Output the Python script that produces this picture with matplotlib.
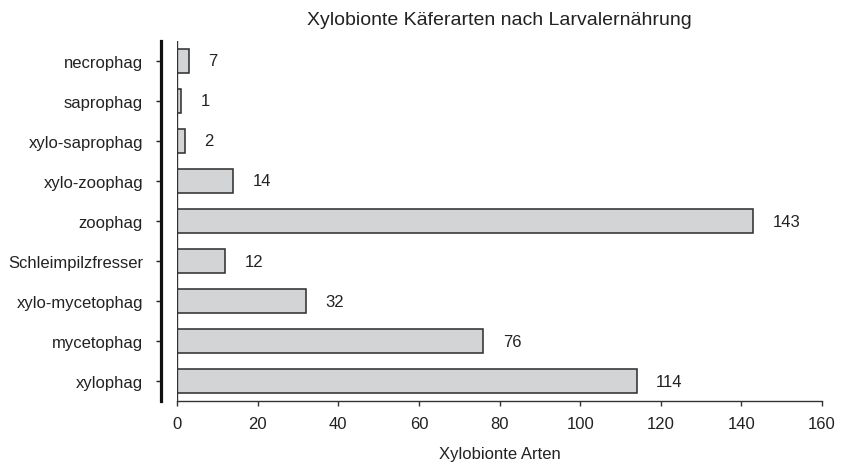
"""
Xylobionte Kaeferarten nach Larvalernaehrung - horizontal bar chart
"""

import matplotlib
matplotlib.use("Agg")
import matplotlib.pyplot as plt
import numpy as np

plt.rcParams['font.family'] = ['Liberation Sans', 'DejaVu Sans']

# bottom to top, as drawn on the chart
categories = ['xylophag', 'mycetophag', 'xylo-mycetophag', 'Schleimpilzfresser',
              'zoophag', 'xylo-zoophag', 'xylo-saprophag', 'saprophag', 'necrophag']
bar_lengths = [114, 76, 32, 12, 143, 14, 2, 1, 3]
value_labels = ['114', '76', '32', '12', '143', '14', '2', '1', '7']
xticks = [0, 20, 40, 60, 80, 100, 120, 140, 160]

text_col = '#222222'

fig = plt.figure(figsize=(8.41, 4.64), dpi=100)
ax = fig.add_axes([0.2105, 0.1336, 0.7669, 0.7759])

y = np.arange(len(categories))
ax.barh(y, bar_lengths, height=0.6, color='#d3d4d6', edgecolor='#2b2b2b',
        linewidth=1.1, zorder=2)

# value labels right of each bar
for yi, v, lab in zip(y, bar_lengths, value_labels):
    ax.annotate(lab, (v, yi), xytext=(14, 0), textcoords='offset points',
                ha='left', va='center', fontsize=12, color=text_col)

# thin line at zero
ax.axvline(0, color='#333333', lw=1.0, zorder=3)

ax.set_xlim(0, 160)
ax.set_ylim(-0.5, len(categories) - 0.5)
ax.set_xticks(xticks)
ax.set_yticks(y)
ax.set_yticklabels(categories)

for s in ['top', 'right']:
    ax.spines[s].set_visible(False)
ax.spines['left'].set_position(('outward', 11.5))
ax.spines['left'].set_linewidth(2.3)
ax.spines['left'].set_color('#111111')
ax.spines['bottom'].set_linewidth(1.0)
ax.spines['bottom'].set_color('#333333')

ax.tick_params(axis='y', direction='out', length=3.5, width=1.0,
               color='#222222', labelsize=12, labelcolor=text_col, pad=9.5)
ax.tick_params(axis='x', direction='out', length=3.5, width=1.0,
               color='#333333', labelsize=12, labelcolor=text_col, pad=7)

ax.set_title('Xylobionte Käferarten nach Larvalernährung', fontsize=14,
             color=text_col, pad=12)
ax.set_xlabel('Xylobionte Arten', fontsize=12, color=text_col, labelpad=11)

fig.savefig('out.png', dpi=100)
